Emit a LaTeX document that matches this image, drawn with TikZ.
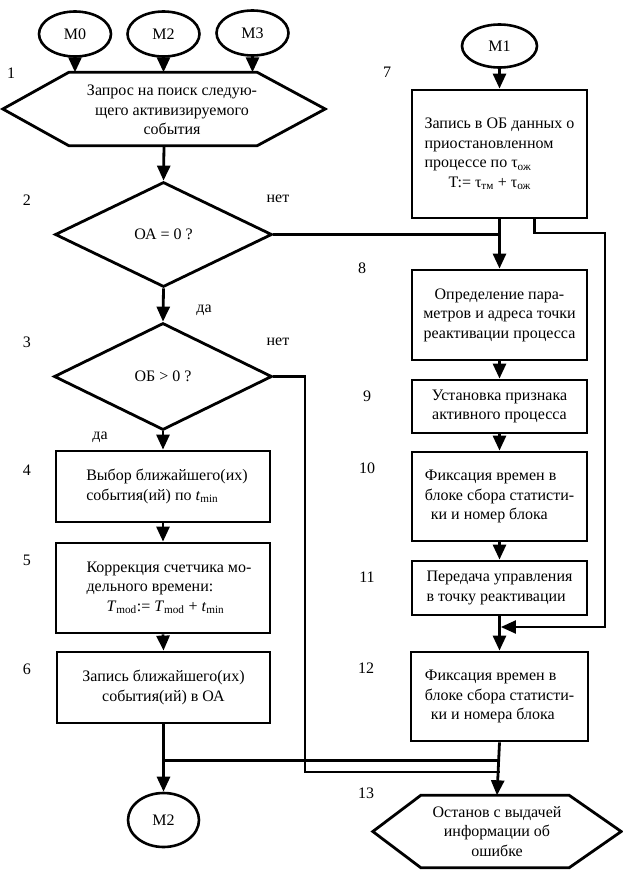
\documentclass[tikz,border=0pt]{standalone}
\usepackage{fontspec}
\setmainfont{Liberation Serif}
\usetikzlibrary{arrows.meta,shapes.geometric}
\begin{document}
\begin{tikzpicture}[x=1pt,y=-1pt,
  txt/.style={font=\fontsize{16}{19.5}\selectfont},
  num/.style={font=\fontsize{16}{19.5}\selectfont, inner sep=0pt},
  boxnode/.style={txt, draw, line width=2.8pt, minimum width=176pt, inner sep=2pt},
  lboxnode/.style={boxnode, minimum width=214pt},
  oval/.style={txt, draw, ellipse, line width=2.6pt, inner sep=0pt},
  dia/.style={txt, draw, diamond, line width=2.8pt, inner sep=0pt},
  hexnode/.style={txt, inner sep=0pt, align=center},
  hexline/.style={line width=2.8pt, line join=miter},
  conn/.style={line width=2.8pt},
  thinconn/.style={line width=2.2pt},
  arr/.style={-{Triangle[length=15pt,width=13pt]}},
]
\useasboundingbox (0,0) rectangle (623,870);

% top connectors
\node[oval, minimum width=72pt, minimum height=45pt] (M0) at (75,34) {M0};
\node[oval, minimum width=72pt, minimum height=45pt] (M2a) at (163.5,34) {M2};
\node[oval, minimum width=72pt, minimum height=45pt] (M3) at (252.5,33) {M3};
\node[oval, minimum width=75pt, minimum height=43pt] (M1) at (499.5,46) {M1};

% block 1
\node[hexnode, minimum width=322pt, minimum height=73pt] (h1) at (164,109) {};
\node[hexnode] (h1t) at (172,110) {Запрос на поиск следую-\\щего активизируемого\\события};
\draw[hexline] (h1.west) -- ([xshift=66pt]h1.north west) -- ([xshift=-68pt]h1.north east)
  -- (h1.east) -- ([xshift=-68pt]h1.south east) -- ([xshift=66pt]h1.south west) -- cycle;

% decisions
\node[dia, minimum width=217pt, minimum height=105pt] (d2) at (163.5,234.5) {ОА = 0 ?};
\node[dia, minimum width=218pt, minimum height=107pt] (d3) at (163,376.5) {ОБ > 0 ?};

% left boxes
\node[lboxnode, minimum height=71pt, align=left] (b4) at (163,486.5)
  {\hspace*{8pt}Выбор ближайшего(их)\\\hspace*{8pt}события(ий) по \textit{t}\textsubscript{min}};
\node[lboxnode, minimum height=90pt, align=left] (b5) at (163,588)
  {\hspace*{12pt}Коррекция счетчика мо-\\\hspace*{12pt}дельного времени:\\\hspace*{32pt}\textit{T}\textsubscript{mod}:= \textit{T}\textsubscript{mod} + \textit{t}\textsubscript{min}};
\node[lboxnode, minimum width=213pt, minimum height=71pt, align=center] (b6) at (163.5,687.5)
  {Запись ближайшего(их)\\события(ий) в ОА};
\node[oval, minimum width=71pt, minimum height=54pt] (M2b) at (163.5,820) {M2};

% right boxes
\node[boxnode, minimum width=175pt, minimum height=128pt, align=left] (b7) at (499.5,154)
  {Запись в ОБ данных о\\приостановленном\\процессе по τ\textsubscript{ож}\\\hspace*{24pt}T:= τ\textsubscript{тм} + τ\textsubscript{ож}};
\node[boxnode, minimum width=175pt, minimum height=90pt, align=center] (b8) at (499.5,315)
  {Определение пара-\\метров и адреса точки\\реактивации процесса};
\node[boxnode, minimum width=175pt, minimum height=53pt, align=center] (b9) at (499.5,406.5)
  {Установка признака\\активного процесса};
\node[boxnode, minimum width=175pt, minimum height=89pt, align=left] (b10) at (499.5,496.5)
  {Фиксация времен в\\блоке сбора статисти-\\\hspace*{6pt}ки и номер блока};
\node[boxnode, minimum width=175pt, minimum height=54pt, align=left] (b11) at (499.5,588)
  {Передача управления\\в точку реактивации};
\node[boxnode, minimum width=177pt, minimum height=89pt, align=left] (b12) at (499.5,696.5)
  {Фиксация времен в\\блоке сбора статисти-\\\hspace*{6pt}ки и номера блока};

% block 13
\node[hexnode, minimum width=248pt, minimum height=72pt] (h13) at (497,831.5)
  {Останов с выдачей\\информации об\\ошибке};
\draw[hexline] (h13.west) -- ([xshift=48pt]h13.north west) -- ([xshift=-52pt]h13.north east)
  -- (h13.east) -- ([xshift=-52pt]h13.south east) -- ([xshift=48pt]h13.south west) -- cycle;

% numbers and labels
\node[num] (n1) at (11,73) {1};
\node[num] (n2) at (27,200) {2};
\node[num] (n3) at (27,342) {3};
\node[num] (n4) at (27,470) {4};
\node[num] (n5) at (27,560) {5};
\node[num] (n6) at (27,669) {6};
\node[num] (n7) at (387,72) {7};
\node[num] (n8) at (362,268) {8};
\node[num] (n9) at (367,396) {9};
\node[num] (n10) at (367,468) {10};
\node[num] (n11) at (367,577) {11};
\node[num] (n12) at (366,668) {12};
\node[num] (n13) at (366,793) {13};
\node[num] (no2) at (278,199) {нет};
\node[num] (yes2) at (204,310) {да};
\node[num] (no3) at (278,342) {нет};
\node[num] (yes3) at (100,437) {да};

% connectors: top
\draw[conn,arr] (M0.south) -- (M0.south |- h1.north);
\draw[conn,arr] (M2a.south) -- (M2a.south |- h1.north);
\draw[conn,arr] (M3.south) -- (M3.south |- h1.north);
\draw[conn,arr] (M1.south) -- (b7.north);

% left column
\draw[conn,arr] (h1.south) -- (d2.north);
\draw[conn,arr] (d2.south) -- (d3.north);
\draw[conn,arr] (d3.south) -- (b4.north);
\draw[conn,arr] (b4.south) -- (b5.north);
\draw[conn,arr] (b5.south) -- (b6.north);
\draw[conn,arr] (b6.south) -- (M2b.north);

% right column
\draw[conn,arr] (b7.south) -- (b8.north);
\draw[conn,arr] (b8.south) -- (b9.north);
\draw[conn,arr] (b9.south) -- (b10.north);
\draw[conn,arr] (b10.south) -- (b11.north);
\draw[conn,arr] (b11.south) -- (b12.north);
\draw[conn,arr] (b12.south) -- (h13.north);

% "нет" from decision 2
\draw[conn] (d2.east) -- (d2.east -| b8.north);

% bypass loop from block 7
\coordinate (r1) at (605,233);
\coordinate (r2) at (605,627);
\draw[thinconn,arr,shorten >=1.4pt] ([xshift=35pt]b7.south) |- (r1) -- (r2) -- (r2 -| b11.south);

% "нет" from decision 3
\coordinate (j2) at (305,772);
\draw[thinconn] (d3.east) -| (j2) -- (j2 -| b12.south);

% junction from block 6 line
\path (b12.south) ++(0,18) coordinate (j1);
\draw[thinconn] (j1 -| b6.south) -- (j1);
\end{tikzpicture}
\end{document}
